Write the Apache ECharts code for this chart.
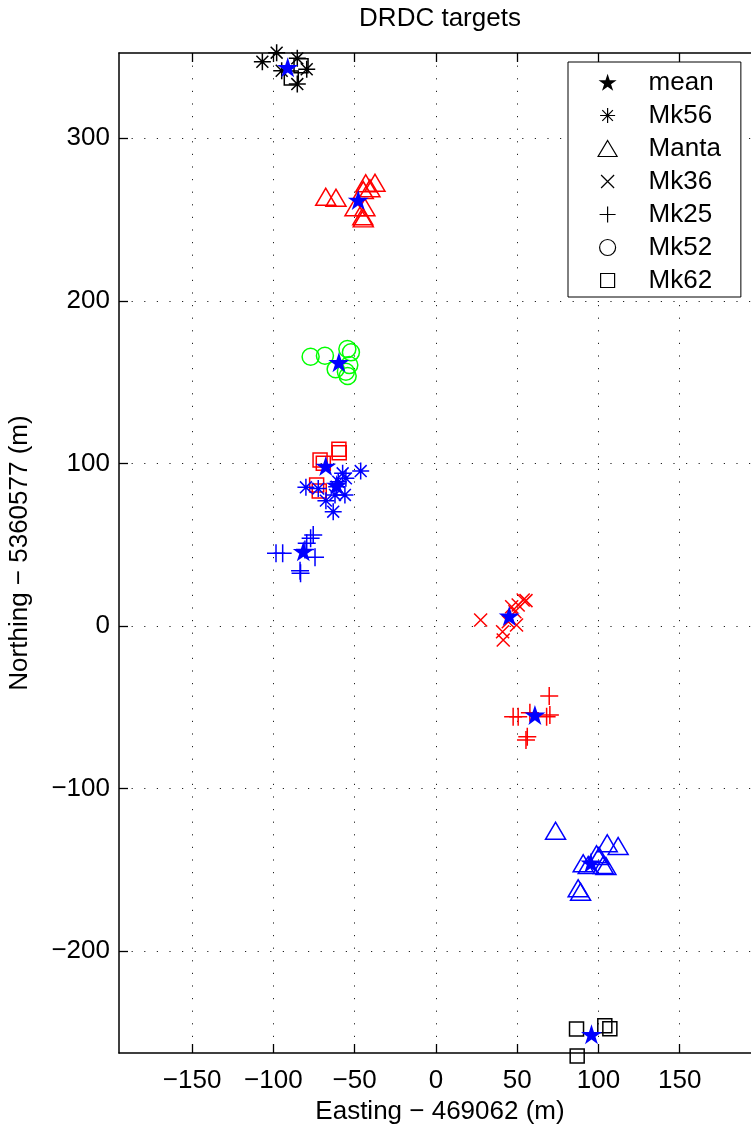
<!DOCTYPE html>
<html><head><meta charset="utf-8">
<script src="https://cdn.jsdelivr.net/npm/echarts@6/dist/echarts.min.js"></script>
<style>html,body{margin:0;padding:0;background:#fff}#c{width:751px;height:1132px}</style>
</head><body><div id="c"></div>
<script>
// ---- tick labels / categories ----
const xTicks = [-150, -100, -50, 0, 50, 100, 150];
const yTicks = [-200, -100, 0, 100, 200, 300];
const legendNames = ['mean', 'Mk56', 'Manta', 'Mk36', 'Mk25', 'Mk52', 'Mk62'];

// ---- data (Easting offset, Northing offset) in metres ----
const mk56Black = [[-106.8, 347.0], [-98.0, 352.6], [-85.3, 349.1], [-79.5, 342.4], [-85.3, 333.3], [-94.9, 341.5]];
const mk62BlackTop = [[-83.0, 344.5], [-89.0, 337.0]];
const mk62BlackBottom = [[86.5, -247.8], [103.9, -245.8], [107.0, -247.7], [86.9, -264.5]];
const mantaRed = [[-67.8, 264.0], [-61.5, 263.4], [-43.2, 272.3], [-37.5, 272.6], [-40.6, 269.2], [-44.7, 268.1], [-49.8, 257.5], [-43.7, 257.5], [-44.7, 250.7], [-45.0, 252.0]];
const mk52Green = [[-77.1, 165.6], [-68.3, 166.2], [-54.5, 170.4], [-52.3, 168.3], [-53.3, 160.5], [-61.7, 157.9], [-55.4, 156.4], [-54.3, 153.8]];
const mk62Red = [[-59.7, 108.7], [-59.5, 106.6], [-71.3, 102.1], [-69.3, 100.1], [-73.4, 86.7], [-71.8, 83.0]];
const mk56Blue = [[-46.3, 95.3], [-57.4, 93.9], [-55.4, 90.8], [-60.1, 88.7], [-80.0, 85.3], [-72.4, 84.5], [-61.1, 85.7], [-56.0, 80.6], [-62.1, 80.6], [-67.7, 77.1], [-63.2, 70.3]];
const mk25Blue = [[-77.1, 53.9], [-75.5, 56.0], [-79.5, 50.9], [-98.4, 44.7], [-94.3, 44.7], [-74.4, 42.3], [-83.6, 34.0], [-83.3, 32.4], [-80.6, 47.0]];
const mk36Red = [[27.5, 3.7], [41.4, -8.6], [41.0, -3.5], [49.6, 0.6], [44.5, 2.6], [46.6, 11.9], [50.6, 12.9], [53.7, 16.0], [55.4, 15.6], [48.6, 8.8]];
const mk25Red = [[69.7, -43.0], [47.5, -55.8], [50.6, -55.8], [57.8, -53.3], [68.1, -55.8], [70.1, -54.7], [56.2, -68.1], [55.4, -70.1]];
const mantaBlue = [[73.6, -125.9], [105.4, -133.6], [112.1, -135.3], [98.8, -140.4], [100.4, -141.5], [90.6, -145.9], [93.7, -147.0], [104.6, -147.6], [102.9, -147.0], [87.5, -161.3], [89.0, -163.4]];
const means = [[-91.2, 343.6], [-47.8, 262.0], [-59.7, 162.2], [-67.8, 98.4], [-61.1, 86.7], [-81.6, 45.9], [45.1, 6.2], [60.9, -54.7], [95.3, -145.6], [95.7, -251.1]];

// ---- styling ----
const FONT = '"Liberation Sans", Arial, Helvetica, sans-serif';
const FS = 26;
const STAR = 'path://M0,-10L2.245,-3.09L9.511,-3.09L3.633,1.18L5.878,8.09L0,3.82L-5.878,8.09L-3.633,1.18L-9.511,-3.09L-2.245,-3.09Z';
const AST = 'path://M0,-1L0,1M-1,0L1,0M-0.7,-0.7L0.7,0.7M-0.7,0.7L0.7,-0.7';
const XM = 'path://M-1,-1L1,1M-1,1L1,-1';
const PLUS = 'path://M0,-1L0,1M-1,0L1,0';
const SYM = {
  Mk56: {symbol: AST, size: 17},
  Manta: {symbol: 'triangle', size: [20, 17]},
  Mk36: {symbol: XM, size: 13},
  Mk25: {symbol: PLUS, size: 18},
  Mk52: {symbol: 'circle', size: 17},
  Mk62: {symbol: 'rect', size: 14}
};
// legend icons: drawn inside a 72x18 box (corner moveTo points fix the box)
const BOX = 'path://M-36,-9M36,9';
const LEG_ICON = {
  mean: BOX + 'M0,-8.8L2.14,-2.25L9.03,-2.25L3.45,1.8L5.58,8.36L0,4.3L-5.58,8.36L-3.45,1.8L-9.03,-2.25L-2.14,-2.25Z',
  Mk56: BOX + 'M0,-7.5L0,7.5M-7.5,0L7.5,0M-5.3,-5.3L5.3,5.3M-5.3,5.3L5.3,-5.3',
  Manta: BOX + 'M0,-8L9.5,8L-9.5,8Z',
  Mk36: BOX + 'M-6.5,-6.5L6.5,6.5M-6.5,6.5L6.5,-6.5',
  Mk25: BOX + 'M0,-8L0,8M-8,0L8,0',
  Mk52: BOX + 'M8,0A8,8 0 1 1 -8,0A8,8 0 1 1 8,0Z',
  Mk62: BOX + 'M-7,-7L7,-7L7,7L-7,7Z'
};
const LW = 1.5;
const minusFmt = v => (v < 0 ? '\u2212' + Math.abs(v) : String(v));

function sc(name, color, data) {
  return {
    name: name, type: 'scatter', data: data, clip: false, silent: true,
    symbol: SYM[name].symbol, symbolSize: SYM[name].size,
    itemStyle: {color: 'transparent', borderColor: color, borderWidth: LW, opacity: 1},
    z: 3
  };
}

const series = [
  sc('Mk56', '#000000', mk56Black),
  sc('Mk62', '#000000', mk62BlackTop),
  sc('Manta', '#ff0000', mantaRed),
  sc('Mk52', '#00ff00', mk52Green),
  sc('Mk62', '#ff0000', mk62Red),
  sc('Mk56', '#0000ff', mk56Blue),
  sc('Mk25', '#0000ff', mk25Blue),
  sc('Mk36', '#ff0000', mk36Red),
  sc('Mk25', '#ff0000', mk25Red),
  sc('Manta', '#0000ff', mantaBlue),
  sc('Mk62', '#000000', mk62BlackBottom),
  {
    name: 'mean', type: 'scatter', data: means, clip: false, silent: true,
    symbol: STAR, symbolSize: [21, 20],
    itemStyle: {color: '#0000ff', borderWidth: 0, opacity: 1}, z: 5
  }
];

const legendData = legendNames.map(n => ({
  name: n,
  icon: LEG_ICON[n],
  itemStyle: n === 'mean'
    ? {color: '#000', borderWidth: 0, opacity: 1}
    : {color: 'transparent', borderColor: '#000', borderWidth: 1.2, opacity: 1}
}));

const axisCommon = {
  type: 'value',
  axisLine: {show: true, onZero: false, lineStyle: {color: '#000', width: 1.5}},
  axisTick: {show: true, inside: true, length: 9, lineStyle: {color: '#000', width: 1.3}},
  axisLabel: {color: '#000', fontSize: FS, fontFamily: FONT, formatter: minusFmt},
  splitLine: {show: true, lineStyle: {color: '#222', width: 1, type: [1.2, 11.4]}},
  nameTextStyle: {color: '#000', fontSize: FS, fontFamily: FONT}
};

const option = {
  backgroundColor: '#fff',
  animation: false,
  title: {
    text: 'DRDC targets', left: 440, top: 6, textAlign: 'center', padding: 0,
    textStyle: {fontSize: FS, fontWeight: 'normal', color: '#000', fontFamily: FONT}
  },
  legend: {
    orient: 'vertical', left: 568, top: 62, padding: [7, 20, 3, 3],
    itemWidth: 72, itemHeight: 18, itemGap: 6,
    borderColor: '#000', borderWidth: 1, borderRadius: 0, backgroundColor: '#fff',
    textStyle: {fontSize: FS, color: '#000', fontFamily: FONT, lineHeight: 27},
    selectedMode: false, inactiveColor: '#000',
    data: legendData
  },
  grid: {left: 119, top: 53, width: 642, height: 1000, containLabel: false, outerBoundsMode: 'none'},
  xAxis: [
    Object.assign({}, axisCommon, {
      min: -195, max: 200, position: 'bottom',
      axisTick: Object.assign({}, axisCommon.axisTick, {customValues: xTicks}),
      axisLabel: Object.assign({}, axisCommon.axisLabel, {customValues: xTicks, margin: 15}),
      name: 'Easting \u2212 469062 (m)', nameLocation: 'middle', nameGap: 46
    }),
    Object.assign({}, axisCommon, {
      min: -195, max: 200, position: 'top',
      axisTick: Object.assign({}, axisCommon.axisTick, {customValues: xTicks}),
      axisLabel: {show: false}, splitLine: {show: false}
    })
  ],
  yAxis: [
    Object.assign({}, axisCommon, {
      min: -262.6, max: 352.4, position: 'left',
      axisTick: Object.assign({}, axisCommon.axisTick, {customValues: yTicks}),
      axisLabel: Object.assign({}, axisCommon.axisLabel, {customValues: yTicks, margin: 9}),
      name: 'Northing \u2212 5360577 (m)', nameLocation: 'middle', nameGap: 86
    })
  ],
  series: series
};

const chart = echarts.init(document.getElementById('c'), null, {renderer: 'canvas'});
chart.setOption(option);
</script>
</body></html>
